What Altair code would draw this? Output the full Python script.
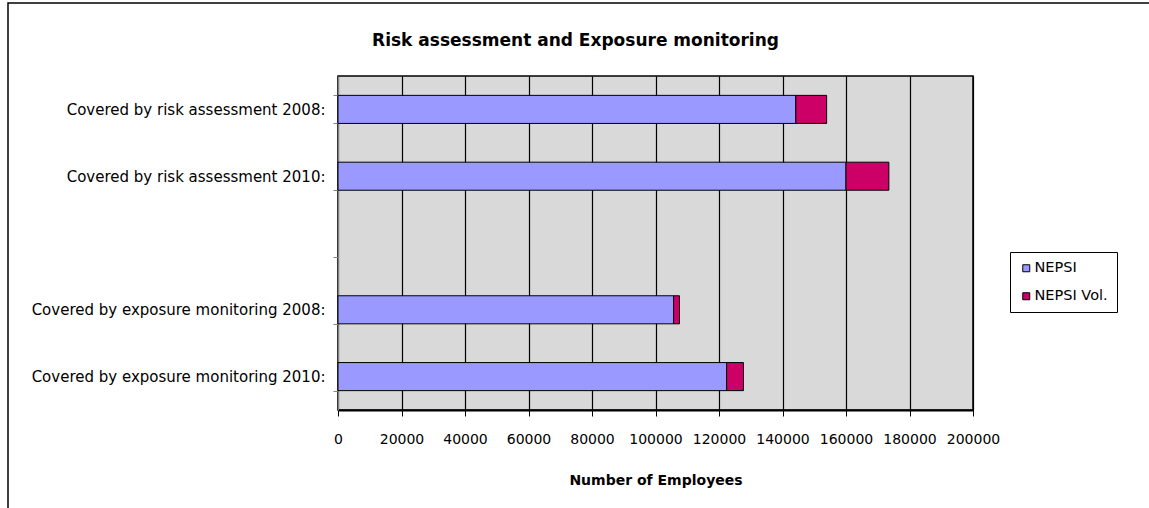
import altair as alt
import pandas as pd

categories = [
    "Covered by risk assessment 2008:",
    "Covered by risk assessment 2010:",
    " ",
    "Covered by exposure monitoring 2008:",
    "Covered by exposure monitoring 2010:",
]
bar_categories = [categories[0], categories[1], categories[3], categories[4]]
nepsi = [144200, 160000, 105700, 122400]
nepsi_vol = [9700, 13500, 1850, 5300]
series = ["NEPSI", "NEPSI Vol."]
colors = ["#9999FF", "#CC0066"]
x_ticks = [0, 20000, 40000, 60000, 80000, 100000, 120000, 140000, 160000, 180000, 200000]

rows = []
for c, a, b in zip(bar_categories, nepsi, nepsi_vol):
    rows.append({"category": c, "series": series[0], "value": a, "order": 0})
    rows.append({"category": c, "series": series[1], "value": b, "order": 1})
df = pd.DataFrame(rows)

FONT = "DejaVu Sans"

frame = alt.Chart(pd.DataFrame({"a": [0]})).mark_rect(
    fillOpacity=0, stroke="black", strokeWidth=1.5
).encode(
    x=alt.value(-330), x2=alt.value(840), y=alt.value(-73), y2=alt.value(450)
)

bars = alt.Chart(df).mark_bar(stroke="black", strokeWidth=1).encode(
    y=alt.Y(
        "category:N",
        sort=categories,
        scale=alt.Scale(domain=categories, paddingInner=0.58, paddingOuter=0.29),
        axis=alt.Axis(
            title=None, tickBand="extent", domainColor="#808080", tickColor="#808080",
            tickSize=5, labelFontSize=15, labelFont=FONT, labelColor="black",
            labelPadding=8, labelLimit=0, grid=False,
        ),
    ),
    x=alt.X(
        "value:Q",
        stack="zero",
        scale=alt.Scale(domain=[0, 200000], nice=False),
        axis=alt.Axis(
            values=x_ticks, format="d", title="Number of Employees", grid=True,
            gridColor="black", gridWidth=1.2, gridOpacity=1, domainColor="black",
            domainWidth=2, tickColor="black", tickSize=6, labelPadding=16,
            labelFlush=False, labelFontSize=14, labelFont=FONT, labelColor="black",
            titleFont=FONT, titleFontSize=14, titleFontWeight="bold", titlePadding=27,
            titleColor="black",
        ),
    ),
    color=alt.Color(
        "series:N",
        scale=alt.Scale(domain=series, range=colors),
        legend=alt.Legend(
            title=None, orient="none", legendX=672, legendY=176, strokeColor="black",
            padding=9, symbolType="square", symbolSize=49, symbolStrokeColor="black",
            symbolStrokeWidth=1, labelFontSize=14.5, labelFont=FONT, labelColor="black",
            rowPadding=13, labelOffset=1, fillColor="white",
        ),
    ),
    order=alt.Order("order:Q"),
)

chart = alt.layer(frame, bars).properties(
    width=635,
    height=334,
    autosize=alt.AutoSizeParams(type="none"),
    padding={"left": 338, "top": 76, "right": 176, "bottom": 98},
    title=alt.TitleParams(
        "Risk assessment and Exposure monitoring", font=FONT, fontSize=17,
        fontWeight="bold", anchor="middle", dx=-80, dy=48, offset=0, color="black",
    ),
).configure(background="white").configure_view(fill="#D9D9D9", stroke="black", strokeWidth=1.5)

chart.save("out.html", embed_options={"renderer": "svg", "actions": False})
